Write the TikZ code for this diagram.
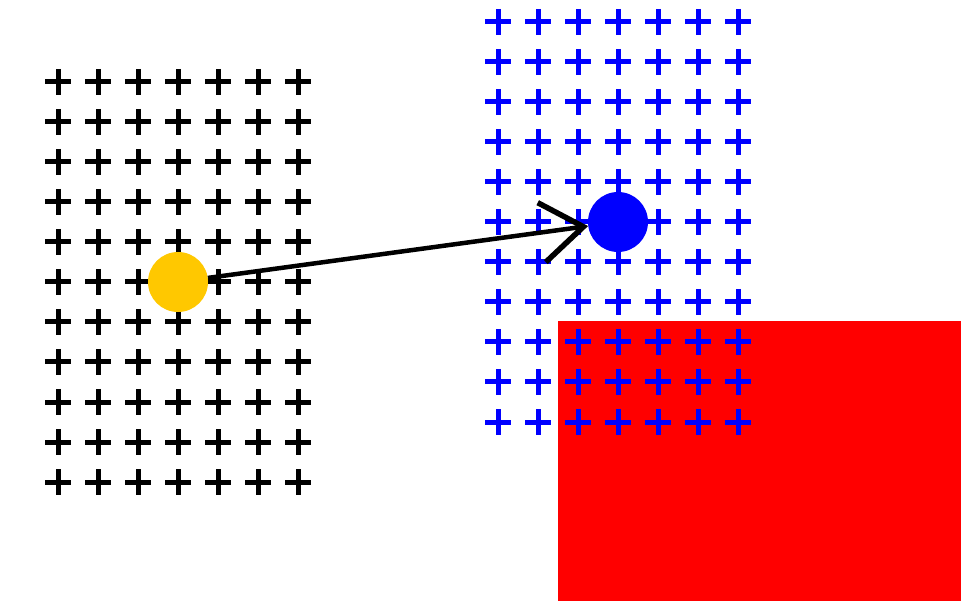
\documentclass[tikz,border=0pt]{standalone}
\usetikzlibrary{arrows.meta}
\definecolor{goldc}{RGB}{255,200,0}
\begin{document}
\begin{tikzpicture}[x=1pt,y=-1pt,
  plusmark/.style={line width=5pt},
  dot/.style={circle,minimum size=60pt,inner sep=0pt,draw=none},
  conn/.style={line width=4.5pt,-{Straight Barb[length=42pt,width=60pt,line width=5.5pt]}}]
\useasboundingbox (0,0) rectangle (961,601);
% black grid
\foreach \i in {0,...,6}{
  \foreach \j in {0,...,10}{
    \draw[plusmark,black] ({58+40*\i-13},{82+40*\j}) -- ++(26,0)
      ({58+40*\i},{82+40*\j-13}) -- ++(0,26);
  }
}
% red rectangle
\fill[red] (558,321) rectangle (961,601);
% blue grid
\foreach \i in {0,...,6}{
  \foreach \j in {0,...,10}{
    \draw[plusmark,blue] ({498+40*\i-13},{22+40*\j}) -- ++(26,0)
      ({498+40*\i},{22+40*\j-13}) -- ++(0,26);
  }
}
\node[dot,fill=goldc] (y) at (178,282) {};
\node[dot,fill=blue] (b) at (618,222) {};
\draw[conn] (y) -- (b);
\end{tikzpicture}
\end{document}
